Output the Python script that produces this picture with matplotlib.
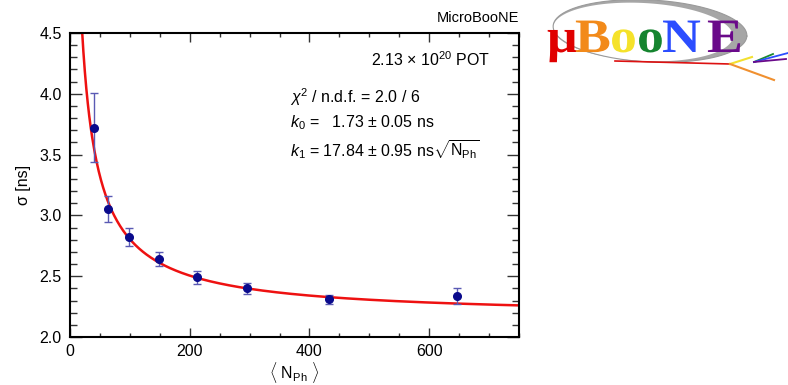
import numpy as np
import matplotlib
matplotlib.use('Agg')
import matplotlib.pyplot as plt
from matplotlib.ticker import MultipleLocator, FormatStrFormatter
from matplotlib.patches import Polygon, PathPatch
from matplotlib.textpath import TextPath
from matplotlib.font_manager import FontProperties
from matplotlib.transforms import Affine2D

plt.rcParams['font.family'] = ['Liberation Sans', 'DejaVu Sans']
plt.rcParams['mathtext.fontset'] = 'custom'
plt.rcParams['mathtext.rm'] = 'Liberation Sans'
plt.rcParams['mathtext.it'] = 'Liberation Sans:italic'
plt.rcParams['mathtext.bf'] = 'Liberation Sans:bold'

# --- mean photon count per bin and timing resolution ---
n_ph = [40.5, 64, 99, 149, 213, 296, 432, 646]
sigma = [3.72, 3.05, 2.82, 2.64, 2.49, 2.40, 2.31, 2.34]
sigma_err = [0.285, 0.107, 0.075, 0.055, 0.052, 0.045, 0.037, 0.066]

# fit parameters (ns), sigma = sqrt(k0^2 + k1^2/N + c^2)
k0 = 1.73
k1 = 17.84
c_const = 1.30

fig = plt.figure(figsize=(7.88, 3.85), dpi=100)
ax = fig.add_axes([0.0888, 0.1247, 0.5698, 0.7896])

n_fit = np.linspace(15, 750, 600)
s_fit = np.sqrt(k0**2 + k1**2 / n_fit + c_const**2)
ax.plot(n_fit, s_fit, color='#ee1111', lw=1.8, zorder=2)

ax.errorbar(n_ph, sigma, yerr=sigma_err, fmt='none', ecolor='#5a5ab4',
            elinewidth=1.0, capsize=3, capthick=1.0, zorder=3)
ax.plot(n_ph, sigma, 'o', color='#0a0a8c', ms=5.5, zorder=4)

ax.set_xlim(0, 750)
ax.set_ylim(2.0, 4.5)
ax.xaxis.set_major_locator(MultipleLocator(200))
ax.xaxis.set_minor_locator(MultipleLocator(50))
ax.yaxis.set_major_locator(MultipleLocator(0.5))
ax.yaxis.set_minor_locator(MultipleLocator(0.1))
ax.yaxis.set_major_formatter(FormatStrFormatter('%.1f'))
ax.tick_params(which='both', direction='in', top=True, right=True,
               labelsize=11.5, width=1.0, color='#333333')
ax.tick_params(axis='y', which='major', length=8.5, pad=6)
ax.tick_params(axis='y', which='minor', length=4.8)
ax.tick_params(axis='x', which='major', length=6.5, pad=5)
ax.tick_params(axis='x', which='minor', length=3.2)
for sp in ax.spines.values():
    sp.set_linewidth(1.5)

ax.set_xlabel(r'$\langle$ N$_{\mathrm{Ph}}$ $\rangle$', fontsize=11.5, labelpad=1)
ax.set_ylabel('σ [ns]', fontsize=11.5, labelpad=6)

ax.text(1.0, 1.025, 'MicroBooNE', transform=ax.transAxes, ha='right',
        va='bottom', fontsize=10.5)
ax.text(0.936, 0.911, r'2.13 $\times$ 10$^{20}$ POT', transform=ax.transAxes,
        ha='right', va='center', fontsize=11.5)
ax.text(0.49, 0.789, r'$\chi^2$ / n.d.f. = 2.0 / 6', transform=ax.transAxes,
        ha='left', va='center', fontsize=11.5)
ax.text(0.49, 0.704, r'$k_0$ =   %.2f $\pm$ 0.05 ns' % k0,
        transform=ax.transAxes, ha='left', va='center', fontsize=11.5)
ax.text(0.49, 0.618,
        r'$k_1$ = %.2f $\pm$ 0.95 ns$\sqrt{\mathrm{N_{Ph}}}$' % k1,
        transform=ax.transAxes, ha='left', va='center', fontsize=11.5)

# --- experiment logo, drawn in pixel coordinates ---
lax = fig.add_axes([0, 0, 1, 1])
lax.set_xlim(0, 788)
lax.set_ylim(385, 0)
lax.axis('off')
lax.patch.set_alpha(0)

t = np.linspace(0, 2 * np.pi, 200)
rot = np.deg2rad(-3)


def ell(cx, cy, a, b, th):
    x = a * np.cos(th)
    y = -b * np.sin(th)
    xr = x * np.cos(rot) + y * np.sin(rot)
    yr = -x * np.sin(rot) + y * np.cos(rot)
    return cx + xr, cy + yr


ox, oy = ell(650, 31, 97, 31, t)
ix, iy = ell(643, 32, 90, 29, t[::-1])
crescent = Polygon(np.column_stack([np.r_[ox, ix], np.r_[oy, iy]]),
                   closed=True, fc='#a6a6a6', ec='none', zorder=1)
lax.add_patch(crescent)
lax.plot(ox, oy, color='#9a9a9a', lw=0.8, zorder=1)

serif_bold = FontProperties(family='Liberation Serif', weight='bold')
letters = [('μ', 547, '#e00000'), ('B', 575, '#f28a1a'),
           ('o', 610, '#f5e22a'), ('o', 637, '#15842f'),
           ('N', 662, '#2b4dff'), ('E', 707, '#6a0a8a')]
for ch, xp, col in letters:
    tp = TextPath((0, 0), ch, size=48, prop=serif_bold)
    tr = Affine2D().scale(1.12, -1.0).translate(xp, 52)
    lax.add_patch(PathPatch(tr.transform_path(tp), fc=col, ec='none',
                            zorder=3))

tracks = [((615, 730), (61, 64), '#dd1111', 1.2),
          ((730, 752), (64, 57), '#f2e030', 1.5),
          ((730, 774), (64, 80), '#f09030', 1.5),
          ((754, 773), (62, 54), '#1a8a30', 1.3),
          ((754, 788), (62, 53), '#2b4dff', 1.3),
          ((754, 786), (62, 59), '#6a0a8a', 1.3)]
for xs, ys, col, lw in tracks:
    lax.plot(xs, ys, color=col, lw=lw, zorder=2)

fig.savefig('out.png', dpi=100)
